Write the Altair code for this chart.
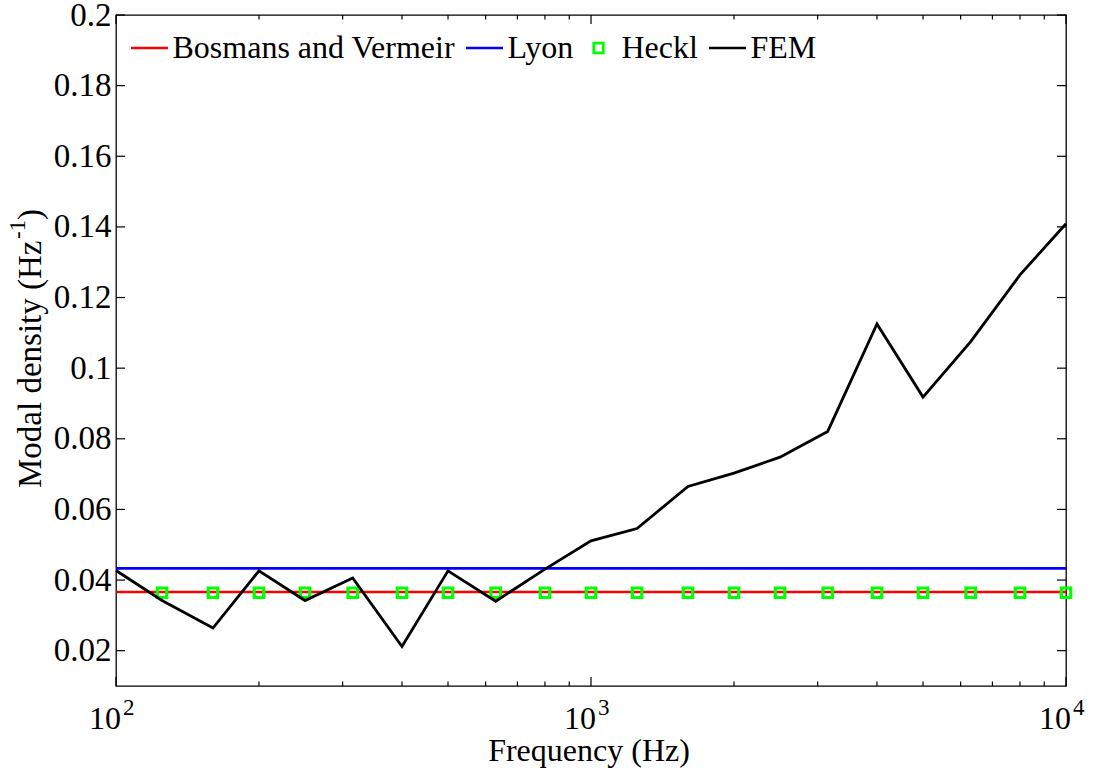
import altair as alt
import pandas as pd

# One-third octave band centre frequencies (Hz)
freq = [100, 125, 160, 200, 250, 315, 400, 500, 630, 800, 1000,
        1250, 1600, 2000, 2500, 3150, 4000, 5000, 6300, 8000, 10000]

# Modal density from the finite element model (1/Hz)
fem = [0.0427, 0.0342, 0.0264, 0.0426, 0.0342, 0.0406, 0.0212, 0.0426,
       0.0340, 0.0431, 0.0511, 0.0546, 0.0665, 0.0703, 0.0748, 0.0821,
       0.1125, 0.0918, 0.1075, 0.1264, 0.1409]

# Analytical estimates
bosmans_freq = [100, 10000]
bosmans = [0.0366, 0.0366]
lyon_freq = [100, 10000]
lyon = [0.0433, 0.0433]
heckl_freq = [125, 160, 200, 250, 315, 400, 500, 630, 800, 1000,
              1250, 1600, 2000, 2500, 3150, 4000, 5000, 6300, 8000, 10000]
heckl = [0.0364, 0.0364, 0.0364, 0.0364, 0.0364, 0.0364, 0.0364, 0.0364,
         0.0364, 0.0364, 0.0364, 0.0364, 0.0364, 0.0364, 0.0364, 0.0364,
         0.0364, 0.0364, 0.0364, 0.0364]

series_names = ["Bosmans and Vermeir", "Lyon", "Heckl", "FEM"]
series_colors = ["#ff0000", "#0000ff", "#00ff00", "#000000"]

# Axis ticks and labels
y_ticks = [0.02, 0.04, 0.06, 0.08, 0.1, 0.12, 0.14, 0.16, 0.18, 0.2]
x_major = [100, 1000, 10000]
x_minor = [200, 300, 400, 500, 600, 700, 800, 900,
           2000, 3000, 4000, 5000, 6000, 7000, 8000, 9000]
x_exponents = ["2", "3", "4"]

W, H = 950, 671
FONT = "Liberation Serif"

def frame(xs, ys, name):
    return pd.DataFrame({"freq": xs, "value": ys, "series": name})

df_bos = frame(bosmans_freq, bosmans, "Bosmans and Vermeir")
df_lyon = frame(lyon_freq, lyon, "Lyon")
df_heckl = frame(heckl_freq, heckl, "Heckl")
df_fem = frame(freq, fem, "FEM")

xscale = alt.Scale(type="log", domain=[100, 10000], nice=False)
yscale = alt.Scale(domain=[0.01, 0.2], nice=False, zero=False)

# Line symbols for the curves, a small open square for the Heckl markers
square_path = "M-0.26,-0.26H0.26V0.26H-0.26Z"
legend = alt.Legend(
    title=None,
    orient="none",
    legendX=13.5,
    legendY=13,
    direction="horizontal",
    columns=4,
    padding=0,
    symbolType=alt.ExprRef(
        expr=f"datum.label === 'Heckl' ? '{square_path}' : 'stroke'"
    ),
    symbolSize=1369,
    symbolStrokeWidth=2.7,
    symbolFillColor="white",
    symbolOpacity=1,
    labelFont=FONT,
    labelFontSize=32,
    labelColor="black",
    labelOffset=3,
    columnPadding=5,
    labelLimit=0,
)

color = alt.Color(
    "series:N",
    scale=alt.Scale(domain=series_names, range=series_colors),
    legend=legend,
)

x_enc = alt.X("freq:Q", scale=xscale, axis=None)
y_enc = alt.Y(
    "value:Q",
    scale=yscale,
    axis=alt.Axis(
        values=y_ticks,
        format="~g",
        title=None,
        ticks=False,
        domain=False,
        grid=False,
        labelFont=FONT,
        labelFontSize=33,
        labelColor="black",
        labelPadding=5,
    ),
)

bos_line = alt.Chart(df_bos).mark_line(strokeWidth=2.6).encode(x=x_enc, y=y_enc, color=color)
lyon_line = alt.Chart(df_lyon).mark_line(strokeWidth=2.6).encode(x=x_enc, y=y_enc, color=color)
heckl_pts = alt.Chart(df_heckl).mark_point(
    shape="square", filled=False, size=90, strokeWidth=3.2, opacity=1
).encode(x=x_enc, y=y_enc, color=color)
fem_line = alt.Chart(df_fem).mark_line(strokeWidth=2.8).encode(x=x_enc, y=y_enc, color=color)

# Inward tick marks on all four sides
df_yt = pd.DataFrame({"value": y_ticks})
df_xmaj = pd.DataFrame({"freq": x_major})
df_xmin = pd.DataFrame({"freq": x_minor})

tick_style = dict(color="black", strokeWidth=1.2)
yt_left = alt.Chart(df_yt).mark_rule(**tick_style).encode(y=y_enc, x=alt.value(0), x2=alt.value(9))
yt_right = alt.Chart(df_yt).mark_rule(**tick_style).encode(y=y_enc, x=alt.value(W), x2=alt.value(W - 9))
xmaj_bot = alt.Chart(df_xmaj).mark_rule(**tick_style).encode(x=x_enc, y=alt.value(H), y2=alt.value(H - 9))
xmaj_top = alt.Chart(df_xmaj).mark_rule(**tick_style).encode(x=x_enc, y=alt.value(0), y2=alt.value(9))
xmin_bot = alt.Chart(df_xmin).mark_rule(**tick_style).encode(x=x_enc, y=alt.value(H), y2=alt.value(H - 4.5))
xmin_top = alt.Chart(df_xmin).mark_rule(**tick_style).encode(x=x_enc, y=alt.value(0), y2=alt.value(4.5))

# Power-of-ten labels on the frequency axis
df_xlab = pd.DataFrame({"freq": x_major, "exp": x_exponents})
xlab_base = alt.Chart(df_xlab).mark_text(
    font=FONT, fontSize=32, align="right", baseline="alphabetic", dx=5, color="black"
).encode(x=x_enc, y=alt.value(714), text=alt.value("10"))
xlab_exp = alt.Chart(df_xlab).mark_text(
    font=FONT, fontSize=23, align="left", baseline="alphabetic", dx=7, color="black"
).encode(x=x_enc, y=alt.value(700), text="exp:N")

# Axis titles
one = pd.DataFrame({"k": [0]})
x_title = alt.Chart(one).mark_text(
    font=FONT, fontSize=32, align="center", baseline="alphabetic", color="black"
).encode(x=alt.value(W / 2 - 2), y=alt.value(746), text=alt.value("Frequency (Hz)"))

ty_x, ty_y = -75, 473
y_title_main = alt.Chart(one).mark_text(
    font=FONT, fontSize=33, align="left", baseline="alphabetic", angle=270, color="black"
).encode(x=alt.value(ty_x), y=alt.value(ty_y), text=alt.value("Modal density (Hz"))
y_title_sup = alt.Chart(one).mark_text(
    font=FONT, fontSize=23, align="left", baseline="alphabetic", angle=270,
    dx=249, dy=-16, color="black"
).encode(x=alt.value(ty_x), y=alt.value(ty_y), text=alt.value("-1"))
y_title_close = alt.Chart(one).mark_text(
    font=FONT, fontSize=33, align="left", baseline="alphabetic", angle=270,
    dx=268, color="black"
).encode(x=alt.value(ty_x), y=alt.value(ty_y), text=alt.value(")"))

chart = alt.layer(
    bos_line, lyon_line, heckl_pts, fem_line,
    yt_left, yt_right, xmaj_bot, xmaj_top, xmin_bot, xmin_top,
    xlab_base, xlab_exp, x_title, y_title_main, y_title_sup, y_title_close,
).properties(
    width=W,
    height=H,
    autosize=alt.AutoSizeParams(type="none"),
    padding={"left": 116, "top": 15, "right": 28, "bottom": 83},
    background="white",
).configure_view(
    stroke="black", strokeWidth=1.3
)

chart.save("out.html", embed_options={"renderer": "svg", "actions": False})
